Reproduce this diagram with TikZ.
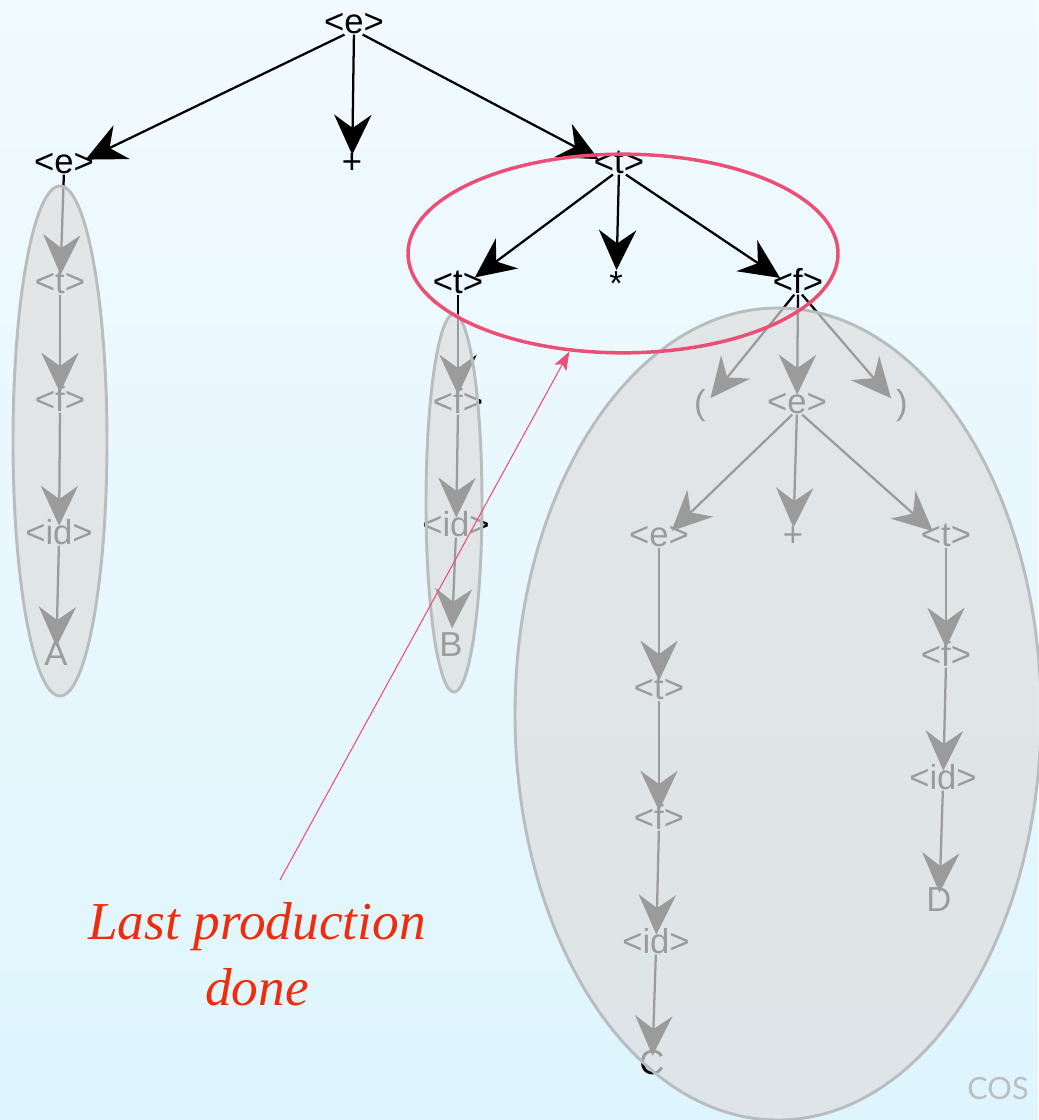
\documentclass[tikz,border=0pt]{standalone}
\usepackage{fontspec}
\setmainfont{Liberation Sans}
\newfontfamily\redserif{Liberation Serif}
\newfontfamily\cosfont{Lato}
\usetikzlibrary{arrows.meta,shapes.geometric}
\definecolor{bgtop}{RGB}{241,250,254}
\definecolor{bgbot}{RGB}{222,245,253}
\definecolor{ovfill}{RGB}{222,222,222}
\definecolor{ovline}{RGB}{186,189,191}
\definecolor{hlred}{RGB}{236,78,118}
\definecolor{txtred}{RGB}{238,45,15}
\definecolor{cosgray}{RGB}{190,190,190}
\begin{document}
\begin{tikzpicture}[x=0.75pt,y=-0.75pt,
  lbl/.style={font=\fontsize{26}{26}\selectfont, inner sep=0pt, text height=0.6em, text depth=0.05em, yshift=-6pt},
  tedge/.style={line width=1.7pt, -{Stealth[length=30pt,width=28pt,inset=10pt]}, shorten >=#1},
  tedge/.default=8pt,
  overlay/.style={fill=ovfill, fill opacity=0.7, draw=ovline, line width=2.2pt},
]
\useasboundingbox (0,0) rectangle (1038,1120);
\shade[top color=bgtop, bottom color=bgbot] (0,0) rectangle (1038,1120);

% --- tree nodes
\node[lbl] (r)  at (354,22)  {<e>};
\node[lbl] (e1) at (64,162)  {<e>};
\node[lbl] (p1) at (352,162) {+};
\node[lbl] (t1) at (619,162) {<t>};
% chain A
\node[lbl] (a1) at (60,282)  {<t>};
\node[lbl] (a2) at (60,400)  {<f>};
\node[lbl] (a3) at (59,533)  {<id>};
\node[lbl] (a4) at (56,654)  {A};
% second level under <t>
\node[lbl] (t2) at (458,282) {<t>};
\node[lbl] (st) at (616,284) {*};
\node[lbl] (f1) at (798,282) {<f>};
% chain B
\node[lbl] (b1) at (458,402) {<f>};
\node[lbl] (b2) at (456,525) {<id>};
\node[lbl] (b3) at (451,645) {B};
% children of <f>
\node[lbl] (lp) at (700,403) {(};
\node[lbl] (e2) at (797,402) {<e>};
\node[lbl] (rp) at (902,403) {)};
% children of inner <e>
\node[lbl] (e3) at (659,535) {<e>};
\node[lbl] (p2) at (793,535) {+};
\node[lbl] (t3) at (946,535) {<t>};
% chain C
\node[lbl] (c1) at (659,688) {<t>};
\node[lbl] (c2) at (659,818) {<f>};
\node[lbl] (c3) at (656,942) {<id>};
\node[lbl] (c4) at (652,1063) {C};
% chain D
\node[lbl] (d1) at (946,655) {<f>};
\node[lbl] (d2) at (943,778) {<id>};
\node[lbl] (d3) at (939,900) {D};

% --- edges
\draw[tedge=10pt] (r) -- (e1);
\draw[tedge] (r) -- (p1);
\draw[tedge=10pt] (r) -- (t1);
\draw[tedge] (e1) -- (a1);
\draw[tedge] (a1) -- (a2);
\draw[tedge] (a2) -- (a3);
\draw[tedge] (a3) -- (a4);
\draw[tedge=10pt] (t1) -- (t2);
\draw[tedge=13pt] (t1) -- (st);
\draw[tedge=10pt] (t1) -- (f1);
\draw[tedge] (t2) -- (b1);
\draw[tedge] (b1) -- (b2);
\draw[tedge=15pt] (b2) -- (b3);
\draw[tedge] (f1) -- (lp);
\draw[tedge] (f1) -- (e2);
\draw[tedge] (f1) -- (rp);
\draw[tedge] (e2) -- (e3);
\draw[tedge] (e2) -- (p2);
\draw[tedge] (e2) -- (t3);
\draw[tedge] (e3) -- (c1);
\draw[tedge] (c1) -- (c2);
\draw[tedge] (c2) -- (c3);
\draw[tedge] (c3) -- (c4);
\draw[tedge] (t3) -- (d1);
\draw[tedge] (d1) -- (d2);
\draw[tedge] (d2) -- (d3);

% --- translucent groupings
\draw[overlay] (60,441) ellipse [x radius=47, y radius=255];
\draw[overlay] (454,503) ellipse [x radius=28, y radius=189];
\draw[overlay] (778,714) ellipse [x radius=263, y radius=406];

% --- highlight of the last production
\node[ellipse, draw=hlred, line width=2.6pt, minimum width=322.5pt, minimum height=149pt, inner sep=0pt] (hl) at (623,253.5) {};
\node[font=\redserif\itshape\fontsize{40}{49.5}\selectfont, text=txtred, align=center, inner sep=0pt] (note) at (257,954) {Last production\\done};
\coordinate (notetip) at (280,880);
\draw[hlred, line width=0.8pt, -{Stealth[length=14pt,width=10pt,inset=3pt]}] (notetip) -- (hl);

\node[font=\cosfont\fontsize{23}{23}\selectfont, text=cosgray, inner sep=0pt] (cos) at (998,1089) {COS};
\end{tikzpicture}
\end{document}
